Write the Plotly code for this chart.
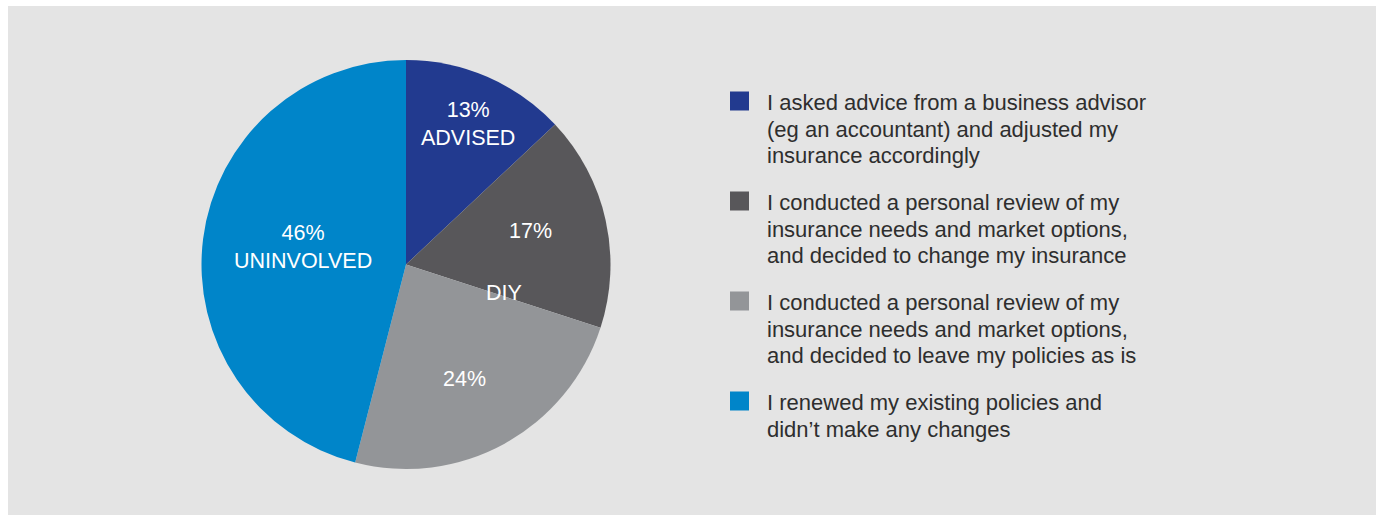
import math
import plotly.graph_objects as go

# Survey responses (share of respondents, %)
segments = ["Advised", "DIY - changed", "DIY - kept", "Uninvolved"]
shares = [13, 17, 24, 46]
slice_tags = ["ADVISED", "", "", "UNINVOLVED"]
colors = ["#223a8f", "#58575a", "#939598", "#0085c9"]
group_tag = "DIY"

legend_lines = [
    ["I asked advice from a business advisor",
     "(eg an accountant) and adjusted my",
     "insurance accordingly"],
    ["I conducted a personal review of my",
     "insurance needs and market options,",
     "and decided to change my insurance"],
    ["I conducted a personal review of my",
     "insurance needs and market options,",
     "and decided to leave my policies as is"],
    ["I renewed my existing policies and",
     "didn\u2019t make any changes"],
]

W, H = 1376, 515
FONT = "Liberation Sans, Arial, Helvetica, sans-serif"
BG = "#e4e4e4"
TEXT = "#2e2e2e"

# pie placement in pixels
cx, cy, r = 406, 264.5, 204.5


def px(x):
    return x / W


def py(y):
    return 1 - y / H


fig = go.Figure()
fig.add_trace(go.Pie(
    labels=segments,
    values=shares,
    sort=False,
    direction="clockwise",
    rotation=0,
    marker=dict(colors=colors, line=dict(width=0)),
    textinfo="none",
    hoverinfo="label+percent",
    showlegend=False,
    domain=dict(x=[px(cx - r), px(cx + r)], y=[py(cy + r), py(cy - r)]),
))

annotations = []

# in-slice labels placed along each slice's mid angle
label_radius = [0.75, 0.63, 0.63, 0.51]
angle_shift = [0.5, -2.4, 1.6, 2.2]
total = sum(shares)
cum = 0
for v, tag, rf, da in zip(shares, slice_tags, label_radius, angle_shift):
    mid = (cum + v / 2) / total * 360 + da
    cum += v
    x = cx + rf * r * math.sin(math.radians(mid))
    y = cy - rf * r * math.cos(math.radians(mid))
    txt = f"{v}%" + (f"<br>{tag}" if tag else "")
    annotations.append(dict(
        x=px(x), y=py(y), xref="paper", yref="paper", text=txt,
        showarrow=False, xanchor="center", yanchor="middle",
        font=dict(family=FONT, size=21.5, color="white"),
    ))

# group label straddling the two DIY slices
edge = (shares[0] + shares[1]) / total * 360 - 2
gx = cx + 0.5 * r * math.sin(math.radians(edge))
gy = cy - 0.5 * r * math.cos(math.radians(edge))
annotations.append(dict(
    x=px(gx), y=py(gy), xref="paper", yref="paper", text=group_tag,
    showarrow=False, xanchor="center", yanchor="middle",
    font=dict(family=FONT, size=21.5, color="white"),
))

# custom legend: square swatch plus wrapped description
shapes = [dict(type="rect", xref="paper", yref="paper",
               x0=px(8), x1=1, y0=0, y1=py(6),
               fillcolor=BG, line=dict(width=0), layer="below")]
sw_x0, sq = 730, 19
text_x = 765
first_y, item_step, line_step = 101, 100, 26.7
for i, (col, lines) in enumerate(zip(colors, legend_lines)):
    y0 = first_y + i * item_step
    shapes.append(dict(type="rect", xref="paper", yref="paper",
                       x0=px(sw_x0), x1=px(sw_x0 + sq),
                       y0=py(y0 + sq / 2), y1=py(y0 - sq / 2),
                       fillcolor=col, line=dict(width=0)))
    for j, line in enumerate(lines):
        annotations.append(dict(
            x=px(text_x), y=py(y0 + j * line_step + 1.5), xref="paper", yref="paper",
            text=line, showarrow=False, xanchor="left", yanchor="middle",
            font=dict(family=FONT, size=22, color=TEXT),
        ))

fig.update_layout(
    width=W, height=H,
    margin=dict(l=0, r=0, t=0, b=0),
    paper_bgcolor="white",
    plot_bgcolor="white",
    shapes=shapes,
    annotations=annotations,
)

fig.write_html("out.html")
